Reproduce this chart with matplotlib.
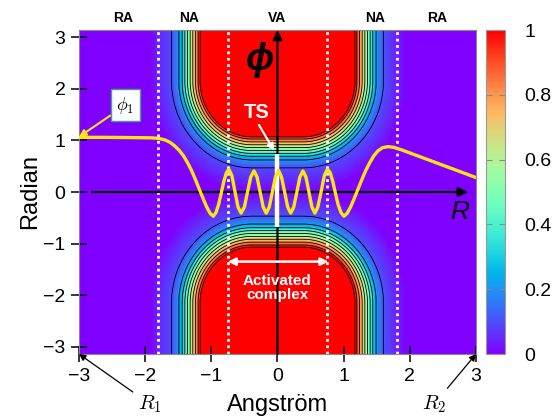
import numpy as np
import matplotlib.pyplot as plt

plt.rcParams['font.family'] = ['Liberation Sans', 'DejaVu Sans']
plt.rcParams['mathtext.fontset'] = 'cm'

# contour levels of the map, and where each level crosses the top edge (|R|)
# and the R = 0 line (|phi|)
levels = [0.0, 0.1, 0.2, 0.3, 0.4, 0.5, 0.6, 0.7, 0.8, 0.9, 1.0]
r_cross = [1.95, 1.60, 1.49, 1.44, 1.40, 1.36, 1.32, 1.28, 1.24, 1.20, 1.17]
phi_cross = [0.20, 0.47, 0.60, 0.68, 0.75, 0.81, 0.87, 0.92, 0.97, 1.02, 1.07]
corner_radius = 0.78  # rounding of the saturated (red) lobes, in R units

# reaction path phi(R)
path_R = [-3.00, -2.60, -2.20, -1.90, -1.80, -1.70, -1.62, -1.55, -1.48, -1.42,
          -1.36, -1.30, -1.24, -1.18, -1.12, -1.07, -1.02, -0.97,
          -0.93, -0.89, -0.85, -0.81, -0.77, -0.735,
          -0.69, -0.643, -0.597, -0.55,
          -0.50, -0.453, -0.404, -0.355,
          -0.309, -0.263, -0.216, -0.17,
          -0.124, -0.078, -0.031, 0.015,
          0.061, 0.108, 0.154, 0.20,
          0.246, 0.293, 0.339, 0.385,
          0.43, 0.475, 0.52, 0.565,
          0.61, 0.66, 0.708, 0.755,
          0.795, 0.835, 0.875, 0.915, 0.96, 1.005,
          1.055, 1.105, 1.155, 1.215, 1.275, 1.335, 1.395, 1.455, 1.52, 1.59,
          1.67, 1.76, 1.87, 3.00]
path_phi = [1.06, 1.06, 1.055, 1.05, 1.04, 1.01, 0.96, 0.89, 0.80, 0.70,
            0.57, 0.42, 0.24, 0.05, -0.14, -0.29, -0.41, -0.47,
            -0.40, -0.24, -0.02, 0.21, 0.38, 0.44,
            0.32, 0.01, -0.29, -0.41,
            -0.29, 0.0, 0.29, 0.41,
            0.29, 0.0, -0.29, -0.41,
            -0.29, 0.0, 0.29, 0.42,
            0.29, 0.0, -0.29, -0.41,
            -0.29, 0.0, 0.29, 0.41,
            0.29, 0.0, -0.29, -0.41,
            -0.29, 0.01, 0.32, 0.44,
            0.38, 0.21, -0.02, -0.24, -0.40, -0.47,
            -0.41, -0.29, -0.14, 0.05, 0.24, 0.42, 0.57, 0.70, 0.80, 0.86,
            0.88, 0.865, 0.82, 0.28]

zone_names = ['RA', 'NA', 'VA', 'NA', 'RA']
zone_pos = [-2.34, -1.33, 0.0, 1.47, 2.42]
zone_edges = [-1.8, -0.75, 0.75, 1.8]

ticks = [-3, -2, -1, 0, 1, 2, 3]
cbar_ticks = [0, 0.2, 0.4, 0.6, 0.8, 1]
cbar_labels = ['0', '0.2', '0.4', '0.6', '0.8', '1']

# build the map from the distance to two rounded lobes (|R| < a, |phi| > b),
# with phi squeezed so both crossing tables share one level profile
lev = np.array(levels)
a, b = r_cross[-1], phi_cross[-1]
phi_scale = (phi_cross[-1] - phi_cross[1]) / (r_cross[1] - r_cross[-1])
d_lev = np.array(r_cross[::-1]) - a

R = np.linspace(-3, 3, 601)
P = np.linspace(-np.pi, np.pi, 601)
RR, PP = np.meshgrid(R, P)
du = np.maximum(np.abs(RR) - (a - corner_radius), 0)
dw = np.maximum(b / phi_scale + corner_radius - np.abs(PP) / phi_scale, 0)
dist = np.hypot(du, dw) - corner_radius
field = np.interp(dist, np.r_[-corner_radius, d_lev], np.r_[3.6, lev[::-1]])

fig = plt.figure(figsize=(5.59, 4.19), dpi=100)
ax = fig.add_axes([0.1413, 0.1551, 0.7102, 0.7733])

im = ax.imshow(np.clip(field, 0, 1), extent=[-3, 3, -np.pi, np.pi], origin='lower',
               cmap='rainbow', vmin=0, vmax=1, aspect='auto', interpolation='bilinear')
ax.contour(R, P, field, levels=levels[1:], colors='k', linewidths=0.6)

for x in zone_edges:
    ax.axvline(x, color='white', lw=2, ls=(0, (1, 1.3)))

# coordinate arrows
ax.annotate('', xy=(0, np.pi), xytext=(0, -np.pi),
            arrowprops=dict(arrowstyle='-|>', color='k', lw=1.6, mutation_scale=14,
                            shrinkA=0, shrinkB=0))
ax.annotate('', xy=(2.88, 0), xytext=(-2.8, 0),
            arrowprops=dict(arrowstyle='-|>', color='k', lw=1.6, mutation_scale=14,
                            shrinkA=0, shrinkB=0))

# transition state bar and the path
ax.plot([0, 0], [-0.68, 0.74], color='white', lw=3.2, solid_capstyle='butt', zorder=4)
ax.plot(path_R, path_phi, color='#ffe414', lw=2.4, solid_joinstyle='round', zorder=5)

ax.annotate('', xy=(-0.05, 0.80), xytext=(-0.28, 1.30),
            arrowprops=dict(arrowstyle='-|>', color='white', lw=1.5, mutation_scale=10,
                            shrinkA=0, shrinkB=0), zorder=6)
ax.text(-0.32, 1.54, 'TS', color='white', fontsize=14.5, fontweight='bold',
        ha='center', va='center')

ax.annotate('', xy=(0.77, -1.35), xytext=(-0.75, -1.35),
            arrowprops=dict(arrowstyle='<|-|>', color='white', lw=1.8, mutation_scale=11,
                            shrinkA=0, shrinkB=0))
ax.text(0.0, -1.86, 'Activated\ncomplex', color='white', fontsize=11, fontweight='bold',
        ha='center', va='center', linespacing=0.95)

ax.text(-0.27, 2.56, 'ϕ', fontsize=27, style='italic', fontweight='bold',
        ha='center', va='center')
ax.text(2.75, -0.38, 'R', fontsize=19, style='italic', ha='center', va='center')

ax.annotate(r'$\phi_1$', xy=(-3, 1.07), xytext=(-2.30, 1.68), fontsize=13,
            ha='center', va='center', annotation_clip=False,
            bbox=dict(boxstyle='square,pad=0.3', fc='white', ec='#4a9e8e', lw=1),
            arrowprops=dict(arrowstyle='-|>', color='#ffe414', lw=1.5, mutation_scale=10,
                            shrinkA=0, shrinkB=0))

ax.annotate(r'$R_1$', xy=(-3, -np.pi), xytext=(-1.93, -4.11), fontsize=15,
            ha='center', va='center', annotation_clip=False,
            arrowprops=dict(arrowstyle='-|>', color='k', lw=0.9, mutation_scale=10,
                            shrinkA=2, shrinkB=0))
ax.annotate(r'$R_2$', xy=(3, -np.pi), xytext=(2.37, -4.11), fontsize=15,
            ha='center', va='center', annotation_clip=False,
            arrowprops=dict(arrowstyle='-|>', color='k', lw=0.9, mutation_scale=10,
                            shrinkA=2, shrinkB=0))

for name, x in zip(zone_names, zone_pos):
    ax.text(x, 1.037, name, transform=ax.get_xaxis_transform(), fontsize=10,
            fontweight='bold', ha='center', va='center')

ax.set_xlim(-3, 3)
ax.set_ylim(-np.pi, np.pi)
ax.set_xticks(ticks)
ax.set_yticks(ticks)
ax.tick_params(direction='inout', length=11.5, width=1.1, labelsize=14, pad=4)
for sp in ax.spines.values():
    sp.set_color('#888888')
    sp.set_linewidth(0.8)

fig.text(0.0537, 0.542, 'Radian', rotation=90, fontsize=17, ha='center', va='center')
fig.text(0.4964, 0.0334, 'Angström', fontsize=17, ha='center', va='center')

cax = fig.add_axes([0.8694, 0.1551, 0.034, 0.7733])
cb = fig.colorbar(im, cax=cax, ticks=cbar_ticks)
cb.ax.set_yticklabels(cbar_labels)
cb.outline.set_edgecolor('#999999')
cb.outline.set_linewidth(0.8)
cax.tick_params(direction='in', length=4, width=0.8, color='#888888', left=True, right=True,
                labelsize=14, pad=14)

fig.savefig('out.png', dpi=100)
